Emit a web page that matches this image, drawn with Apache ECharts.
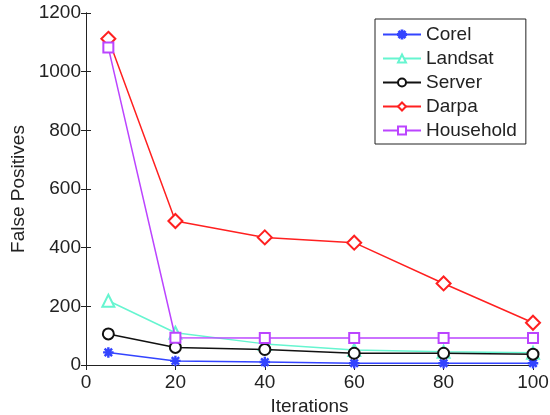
<!DOCTYPE html>
<html>
<head>
<meta charset="utf-8">
<script src="https://cdn.jsdelivr.net/npm/echarts@6/dist/echarts.min.js"></script>
<style>html,body{margin:0;padding:0;background:#fff;}#c{width:550px;height:415px;}</style>
</head>
<body>
<div id="c"></div>
<script>
const iterations = [5, 20, 40, 60, 80, 100];
const seriesNames = ['Corel', 'Landsat', 'Server', 'Darpa', 'Household'];
const corel = [43, 14, 10, 6, 6, 6];
const landsat = [219, 110, 72, 51, 45, 42];
const server = [106, 60, 53, 40, 40, 37];
const darpa = [1112, 491, 435, 417, 278, 144];
const household = [1082, 93, 92, 92, 92, 92];
const xTicks = [0, 20, 40, 60, 80, 100];
const yTicks = [0, 200, 400, 600, 800, 1000, 1200];

const FONT = 'Liberation Sans, Arial, Helvetica, sans-serif';
const star = 'path://M-10,-1 L10,-1 L10,1 L-10,1 Z M-1,-10 L1,-10 L1,10 L-1,10 Z M-6.36,-7.78 L7.78,6.36 L6.36,7.78 L-7.78,-6.36 Z M6.36,-7.78 L7.78,-6.36 L-6.36,7.78 L-7.78,6.36 Z';

function pts(arr) { return iterations.map((x, i) => [x, arr[i]]); }

const defs = [
  { data: corel, color: '#3344ff', symbol: star, size: 9 },
  { data: landsat, color: '#66f5d0', symbol: 'emptyTriangle', size: 12 },
  { data: server, color: '#111111', symbol: 'emptyCircle', size: 11 },
  { data: darpa, color: '#ff2020', symbol: 'emptyDiamond', size: 14 },
  { data: household, color: '#bb44ff', symbol: 'emptyRect', size: 10 }
];

const axisCommon = {
  type: 'value',
  axisLine: { show: true, lineStyle: { color: '#222', width: 1 } },
  axisTick: { show: true, inside: true, length: 5, lineStyle: { color: '#222' } },
  splitLine: { show: false }
};

const chart = echarts.init(document.getElementById('c'));
chart.setOption({
  animation: false,
  backgroundColor: '#fff',
  grid: { left: 86, right: 17, top: 13, bottom: 50, containLabel: false, outerBoundsMode: 'none' },
  xAxis: [
    Object.assign({}, axisCommon, {
      min: xTicks[0], max: xTicks[xTicks.length - 1], interval: 20,
      position: 'bottom',
      name: 'Iterations', nameLocation: 'middle', nameGap: 29,
      nameTextStyle: { fontFamily: FONT, fontSize: 19, color: '#222' },
      axisLabel: { fontFamily: FONT, fontSize: 19, color: '#222', margin: 8 }
    }),
    Object.assign({}, axisCommon, {
      min: xTicks[0], max: xTicks[xTicks.length - 1], interval: 20,
      position: 'top', axisLabel: { show: false }
    })
  ],
  yAxis: [
    Object.assign({}, axisCommon, {
      min: yTicks[0], max: yTicks[yTicks.length - 1], interval: 200,
      position: 'left',
      name: 'False Positives', nameLocation: 'middle', nameGap: 56, nameRotate: 90,
      nameTextStyle: { fontFamily: FONT, fontSize: 19, color: '#222' },
      axisLabel: { fontFamily: FONT, fontSize: 19, color: '#222', margin: 5, formatter: v => String(v) }
    }),
    Object.assign({}, axisCommon, {
      min: yTicks[0], max: yTicks[yTicks.length - 1], interval: 200,
      position: 'right', axisLabel: { show: false }
    })
  ],
  legend: {
    left: 375, top: 19, orient: 'vertical',
    data: seriesNames,
    backgroundColor: '#fff',
    borderColor: '#222', borderWidth: 1,
    padding: [6, 9, 4, 7],
    itemWidth: 38, itemHeight: 10, itemGap: 5,
    textStyle: { fontFamily: FONT, fontSize: 19, color: '#222', lineHeight: 19 }
  },
  series: defs.map((d, i) => ({
    name: seriesNames[i],
    type: 'line',
    data: pts(d.data),
    symbol: d.symbol,
    symbolSize: d.size,
    showAllSymbol: true,
    lineStyle: { color: d.color, width: 1.5 },
    itemStyle: { color: d.color, borderColor: d.color, borderWidth: 1.5 },
    emphasis: { disabled: true },
    z: 2 + i
  }))
});
</script>
</body>
</html>
